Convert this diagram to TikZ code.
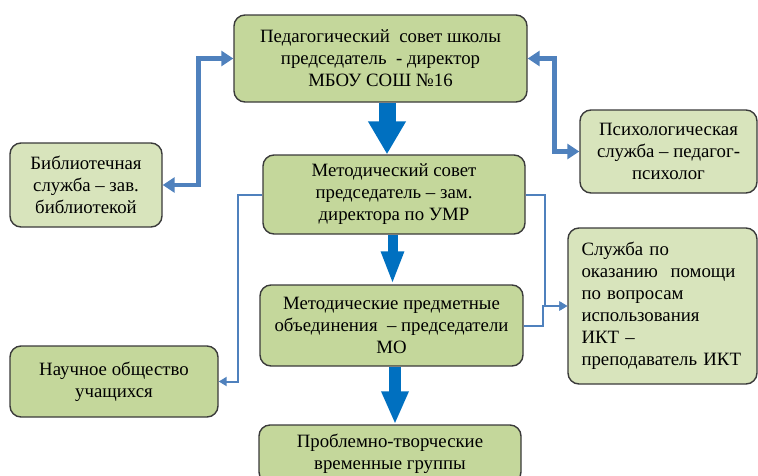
\documentclass[tikz,border=0pt]{standalone}
\usepackage{fontspec}
\setmainfont{Liberation Serif}
\newfontfamily\chartfont{Liberation Serif}
\usepackage{xcolor}
\usetikzlibrary{arrows.meta, positioning}

\definecolor{boxdark}{HTML}{C4D79B}
\definecolor{boxlight}{HTML}{D8E4BC}
\definecolor{boxline}{HTML}{3A3A3A}
\definecolor{linkblue}{HTML}{4F81BD}
\definecolor{arrowblue}{HTML}{0070C0}

\tikzset{
    unit/.style={draw=boxline, line width=1.4pt, rounded corners=11pt,
        align=center, inner sep=0pt, font=\chartfont\fontsize{18.8}{22}\selectfont},
    mainunit/.style={unit, fill=boxdark},
    sideunit/.style={unit, fill=boxlight},
    fatlink/.style={linkblue, line width=4.5pt,
        {Triangle[width=15pt,length=12pt]}-{Triangle[width=15pt,length=12pt]}},
    thinlink/.style={linkblue, line width=2pt, -{Triangle[width=9pt,length=8pt]}},
    downarrow/.style={arrowblue, line width=#1, -{Triangle[width=2.1*#1,length=33pt]}}
}

\begin{document}
\begin{tikzpicture}[x=1pt, y=-1pt]
    \useasboundingbox (0,0) rectangle (758,475);
    \clip (0,0) rectangle (758,475);

    % main chain
    \node[mainunit, minimum width=293pt, minimum height=87pt] (ped) at (380.5,58.5)
        {Педагогический\ \ совет школы\\председатель\ \ - директор\\МБОУ СОШ №16};
    \node[mainunit, minimum width=262pt, minimum height=79pt] (met) at (394,194.5)
        {Методический совет\\председатель – зам.\\директора по УМР};
    \node[mainunit, minimum width=263pt, minimum height=81pt] (mo) at (391.5,325.5)
        {Методические предметные\\объединения\ \ – председатели\\МО};
    \node[mainunit, minimum width=262pt, minimum height=58pt] (pro) at (390,454)
        {Проблемно-творческие\\временные группы};

    % side units
    \node[sideunit, minimum width=152pt, minimum height=84pt] (bib) at (86,185)
        {Библиотечная\\служба – зав.\\библиотекой};
    \node[sideunit, minimum width=177pt, minimum height=83pt] (psy) at (668.5,151.5)
        {Психологическая\\служба – педагог-\\психолог};
    \node[sideunit, minimum width=189pt, minimum height=156pt, align=left,
        text width=162pt] (ikt) at (662.5,306)
        {Служба по\\оказанию\ \ помощи\\по вопросам\\использования\\ИКТ –\\преподаватель ИКТ};
    \node[mainunit, minimum width=208pt, minimum height=71pt] (nou) at (114,381.5)
        {Научное общество\\учащихся};

    % links of the council
    \draw[fatlink] (bib.east) -- ++(36,0) |- (ped.west);
    \draw[fatlink] (ped.east) -- ++(27,0) |- (psy.west);

    % down arrows
    \draw[downarrow=17pt] ([xshift=6.5pt]ped.south) -- ([xshift=6.5pt]ped.south |- met.north);
    \draw[downarrow=10pt] ([xshift=-1.5pt]met.south) -- ([xshift=-1.5pt]met.south |- mo.north);
    \draw[downarrow=12pt] ([xshift=3.5pt]mo.south) -- ([xshift=3.5pt]mo.south |- pro.north);

    % thin links
    \draw[thinlink] (met.west) -- ++(-24,0) |- (nou.east);
    \draw[thinlink] (met.east) -- ++(19,0) |- (ikt.west);
    \draw[thinlink] (mo.east) -- ++(19,0) |- (ikt.west);
\end{tikzpicture}
\end{document}
